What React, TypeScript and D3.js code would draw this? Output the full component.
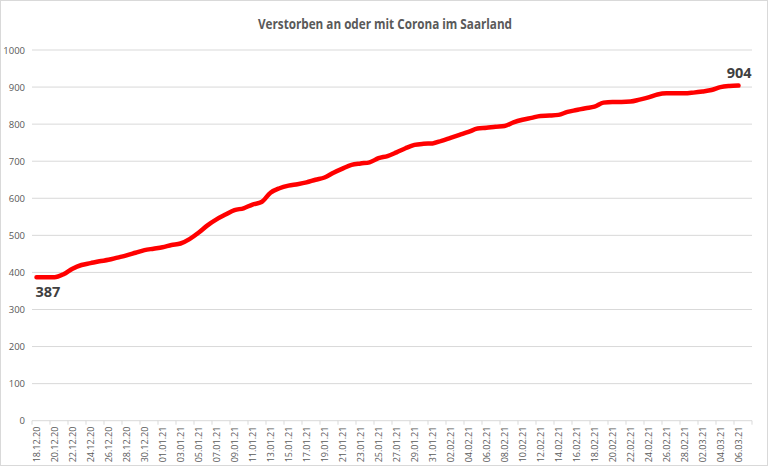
import React from "react";
import * as d3 from "d3";

const W = 770;
const H = 468;

// Dates 18.12.20 .. 07.03.21 (last category has no value)
const startDate = new Date(2020, 11, 18);
const categories: string[] = d3.timeDay
  .range(startDate, new Date(2021, 2, 8))
  .map((d) => d3.timeFormat("%d.%m.%y")(d));

const deaths: number[] = [
  387, 387, 387, 395, 410, 420, 425, 430, 434, 440,
  446, 453, 460, 464, 468, 474, 478, 490, 507, 527,
  543, 556, 568, 573, 583, 590, 615, 627, 634, 638,
  643, 650, 656, 669, 680, 690, 694, 697, 708, 714,
  724, 735, 744, 747, 748, 755, 763, 771, 779, 788,
  790, 793, 795, 805, 812, 817, 822, 823, 825, 833,
  838, 843, 847, 858, 860, 860, 861, 866, 872, 880,
  883, 883, 883, 885, 888, 892, 900, 903, 904,
];

const yTicks: number[] = [0, 100, 200, 300, 400, 500, 600, 700, 800, 900, 1000];
const title = "Verstorben an oder mit Corona im Saarland";

export default function App() {
  const left = 32;
  const right = 752;
  const top = 50;
  const bottom = 420.7;

  const x = d3.scaleBand<string>().domain(categories).range([left, right]).padding(0);
  const y = d3.scaleLinear().domain([0, 1000]).range([bottom, top]);
  const cx = (c: string) => (x(c) as number) + x.bandwidth() / 2;

  const pts: [number, number][] = deaths.map((v, i) => [cx(categories[i]), y(v)]);
  const line = d3.line().curve(d3.curveMonotoneX)(pts) || "";

  const tickIdx = d3.range(0, categories.length + 1, 2);
  const first = pts[0];
  const last = pts[pts.length - 1];

  return (
    <svg
      width={W}
      height={H}
      style={{ position: "absolute", left: 0, top: 0, background: "#fff" }}
      fontFamily="'Open Sans', 'Liberation Sans', sans-serif"
    >
      <rect x={0.5} y={0.5} width={W - 3} height={H - 3} fill="#fff" stroke="#d9d9d9" />
      <text
        x={385}
        y={29}
        textAnchor="middle"
        fontSize={13.5}
        fontWeight="bold"
        fill="#595959"
        textLength={254}
        lengthAdjust="spacingAndGlyphs"
      >
        {title}
      </text>
      {yTicks.map((t) => (
        <g key={t}>
          {t > 0 && (
            <line x1={left} x2={right} y1={y(t)} y2={y(t)} stroke="#d9d9d9" strokeWidth={1} />
          )}
          <text x={25} y={y(t) + 3.5} textAnchor="end" fontSize={9.5} fill="#595959">
            {t}
          </text>
        </g>
      ))}
      <line x1={left} x2={right} y1={bottom} y2={bottom} stroke="#d9d9d9" strokeWidth={1} />
      {tickIdx.map((i) => {
        const xx = i < categories.length ? (x(categories[i]) as number) : right;
        return <line key={i} x1={xx} x2={xx} y1={bottom} y2={bottom + 4} stroke="#d9d9d9" />;
      })}
      {categories.map((c, i) =>
        i % 2 === 0 && i < deaths.length ? (
          <text
            key={c}
            transform={`translate(${cx(c) + 3.5},${bottom + 6}) rotate(-90)`}
            textAnchor="end"
            fontSize={9}
            fill="#595959"
          >
            {c}
          </text>
        ) : null
      )}
      <path
        d={line}
        fill="none"
        stroke="#ff0000"
        strokeWidth={4.5}
        strokeLinecap="round"
        strokeLinejoin="round"
      />
      <text x={first[0] - 1} y={first[1] + 20} fontSize={14.5} fontWeight="bold" fill="#404040">
        {deaths[0]}
      </text>
      <text x={last[0] + 13} y={last[1] - 8} textAnchor="end" fontSize={14.5} fontWeight="bold" fill="#404040">
        {deaths[deaths.length - 1]}
      </text>
    </svg>
  );
}
